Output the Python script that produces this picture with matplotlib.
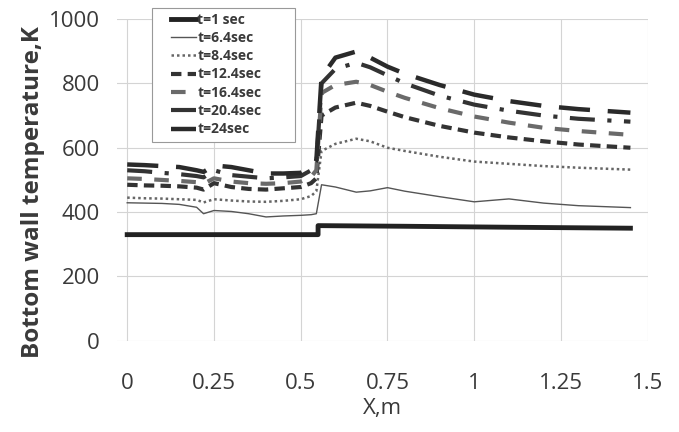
import matplotlib.pyplot as plt
from matplotlib.patches import Rectangle

plt.rcParams['font.family'] = ['Open Sans', 'DejaVu Sans']

# x positions (m) shared by the transient curves
x = [0, 0.05, 0.1, 0.15, 0.2, 0.22, 0.25, 0.3, 0.35, 0.4, 0.45, 0.5, 0.53,
     0.545, 0.56, 0.6, 0.66, 0.7, 0.75, 0.8, 0.9, 1.0, 1.1, 1.2, 1.3, 1.45]

# t=1 sec is a simple step
x_t1 = [0, 0.55, 0.55, 0.8, 1.1, 1.45]
y_t1 = [330, 330, 358, 356, 353, 350]

y_t6 = [429, 428, 427, 424, 415, 395, 405, 402, 395, 385, 388, 390, 392,
        395, 485, 478, 462, 466, 476, 465, 448, 432, 441, 428, 420, 414]
y_t8 = [445, 443, 442, 440, 438, 430, 440, 436, 433, 432, 435, 440, 450,
        465, 590, 612, 628, 620, 600, 590, 572, 557, 550, 543, 538, 532]
y_t12 = [485, 483, 482, 480, 476, 470, 490, 478, 472, 470, 474, 478, 490,
         505, 700, 725, 740, 730, 712, 695, 668, 647, 632, 620, 610, 600]
y_t16 = [505, 503, 500, 497, 493, 488, 505, 495, 490, 488, 490, 495, 510,
         530, 770, 795, 805, 795, 774, 755, 723, 697, 678, 662, 652, 640]
y_t20 = [530, 527, 522, 518, 512, 508, 530, 515, 510, 505, 508, 512, 530,
         550, 800, 845, 864, 850, 825, 800, 762, 734, 715, 700, 690, 681]
y_t24 = [548, 546, 543, 540, 530, 525, 545, 540, 530, 520, 520, 522, 540,
         560, 820, 880, 899, 880, 852, 830, 795, 765, 745, 730, 720, 709]

labels = ['t=1 sec', 't=6.4sec', 't=8.4sec', 't=12.4sec', 't=16.4sec',
          't=20.4sec', 't=24sec']

txt = '#3a3a3a'

fig = plt.figure(figsize=(6.79, 4.32), dpi=100)
ax = fig.add_axes([0.172, 0.211, 0.782, 0.745])

ax.plot(x_t1, y_t1, color='#222222', lw=3.5, label=labels[0])
ax.plot(x, y_t6, color='#555555', lw=1.0, label=labels[1])
ax.plot(x, y_t8, color='#666666', lw=1.8, ls=(0, (1, 1.2)), label=labels[2])
ax.plot(x, y_t12, color='#333333', lw=3.0, ls=(0, (2.5, 1.5)), label=labels[3])
ax.plot(x, y_t16, color='#6a6a6a', lw=3.0, ls=(0, (3.5, 3)), label=labels[4])
ax.plot(x, y_t20, color='#333333', lw=3.0, ls=(0, (6, 3, 1, 3)), label=labels[5])
ax.plot(x, y_t24, color='#2a2a2a', lw=3.2, ls=(0, (7, 4)), label=labels[6])

ax.set_xlim(-0.03, 1.5)
ax.set_ylim(0, 1000)
ax.set_xticks([0, 0.25, 0.5, 0.75, 1, 1.25, 1.5])
ax.set_xticklabels(['0', '0.25', '0.5', '0.75', '1', '1.25', '1.5'])
ax.set_yticks([0, 200, 400, 600, 800, 1000])
ax.grid(True, color='#d4d4d4', lw=0.8)
ax.set_axisbelow(True)
for s in ax.spines.values():
    s.set_visible(False)
ax.tick_params(length=0, labelsize=16, labelcolor=txt)
ax.tick_params(axis='x', pad=23)
ax.tick_params(axis='y', pad=12)

ax.set_xlabel('X,m', fontsize=16, color=txt, labelpad=3)
ax.set_ylabel('Bottom wall temperature,K', fontsize=17.5, fontweight='bold',
              color=txt, labelpad=3)
ax.yaxis.label.set_y(0.463)

# legend frame drawn by hand (Excel style, wide left margin)
ax.add_patch(Rectangle((0.066, 0.618), 0.269, 0.416, transform=ax.transAxes,
                       facecolor='white', edgecolor='#999999', lw=0.8,
                       clip_on=False, zorder=5))
leg = ax.legend(loc='upper left', bbox_to_anchor=(0.103, 1.02), fontsize=10,
                frameon=False, handlelength=1.75, handletextpad=0.1,
                labelspacing=0.31, borderpad=0, borderaxespad=0)
leg.set_zorder(6)
for t in leg.get_texts():
    t.set_color(txt)
    t.set_fontweight('bold')

fig.savefig('out.png', dpi=100)
